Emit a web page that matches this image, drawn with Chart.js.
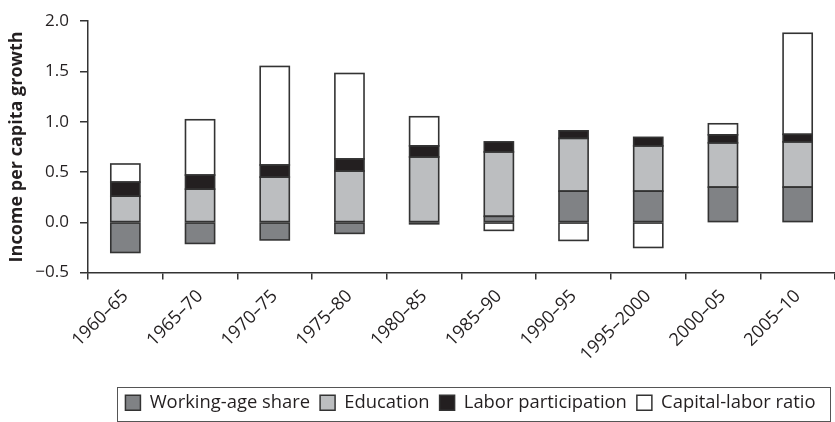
<!DOCTYPE html>
<html>
<head>
<meta charset="utf-8">
<script src="https://cdn.jsdelivr.net/npm/chart.js@4"></script>
<style>
  html, body { margin: 0; padding: 0; background: #fff; }
  #wrap { width: 835px; height: 422px; }
</style>
</head>
<body>
<div id="wrap"><canvas id="myChart" width="835" height="422"></canvas></div>
<script>
const periods = ['1960–65', '1965–70', '1970–75', '1975–80', '1980–85',
                 '1985–90', '1990–95', '1995–2000', '2000–05', '2005–10'];
const workingAge = [-0.30, -0.21, -0.175, -0.11, -0.015, 0.06, 0.31, 0.31, 0.35, 0.35];
const education = [0.26, 0.33, 0.45, 0.51, 0.65, 0.64, 0.525, 0.45, 0.44, 0.45];
const laborPart = [0.14, 0.14, 0.12, 0.12, 0.11, 0.10, 0.075, 0.085, 0.08, 0.075];
const capitalLabor = [0.18, 0.55, 0.98, 0.85, 0.29, -0.08, -0.18, -0.25, 0.11, 1.005];
const yTicks = [-0.5, 0, 0.5, 1.0, 1.5, 2.0];

const ink = '#231f20';
const edge = '#333333';

window.onload = function () {
    const ctx = document.getElementById('myChart').getContext('2d');

    function series(label, values, fill) {
        return {
            label: label,
            data: values,
            backgroundColor: fill,
            borderWidth: 0,
            inflateAmount: 0,
            barPercentage: 0.39,
            categoryPercentage: 1
        };
    }

    // outline every bar segment so stacked pieces share a single edge
    const barOutlines = {
        id: 'barOutlines',
        afterDatasetsDraw(chart) {
            const c = chart.ctx;
            c.save();
            c.strokeStyle = edge;
            c.lineWidth = 1.6;
            chart.data.datasets.forEach((ds, i) => {
                chart.getDatasetMeta(i).data.forEach(bar => {
                    const p = bar.getProps(['x', 'y', 'base', 'width'], true);
                    const top = Math.min(p.y, p.base);
                    const h = Math.abs(p.base - p.y);
                    c.strokeRect(p.x - p.width / 2, top, p.width, h);
                });
            });
            c.restore();
        }
    };

    // move legend a bit right and frame it like the printed figure
    const legendFrame = {
        id: 'legendFrame',
        afterLayout(chart) {
            chart.legend.left += 9;
            chart.legend.right += 9;
        },
        afterDraw(chart) {
            const boxes = chart.legend.legendHitBoxes;
            if (!boxes || !boxes.length) return;
            const first = boxes[0];
            const last = boxes[boxes.length - 1];
            const c = chart.ctx;
            c.save();
            c.strokeStyle = '#555';
            c.lineWidth = 1;
            const x0 = Math.round(first.left - 8) + 0.5;
            const x1 = Math.round(last.left + last.width + 14) + 0.5;
            const y0 = 387.5;
            const y1 = 421.5;
            c.strokeRect(x0, y0, x1 - x0, y1 - y0);
            c.restore();
        }
    };

    new Chart(ctx, {
        type: 'bar',
        data: {
            labels: periods,
            datasets: [
                series('Working-age share', workingAge, '#808285'),
                series('Education', education, '#bcbec0'),
                series('Labor participation', laborPart, ink),
                series('Capital-labor ratio', capitalLabor, '#ffffff')
            ]
        },
        options: {
            responsive: false,
            animation: false,
            layout: { padding: 0 },
            plugins: {
                legend: {
                    position: 'bottom',
                    fullSize: false,
                    labels: {
                        boxWidth: 15,
                        boxHeight: 15,
                        padding: 10,
                        color: ink,
                        font: { family: 'Open Sans', size: 18.4 },
                        generateLabels(chart) {
                            const items = Chart.defaults.plugins.legend.labels.generateLabels(chart);
                            items.forEach(it => { it.lineWidth = 1.5; it.strokeStyle = edge; });
                            return items;
                        }
                    }
                },
                tooltip: { enabled: false }
            },
            scales: {
                x: {
                    stacked: true,
                    border: { color: edge, width: 1.5 },
                    grid: {
                        offset: true,
                        drawOnChartArea: false,
                        tickLength: 7,
                        color: edge,
                        lineWidth: 1.5
                    },
                    ticks: {
                        minRotation: 45,
                        maxRotation: 45,
                        color: ink,
                        padding: 6,
                        font: { family: 'Open Sans', size: 18 }
                    },
                    afterFit(scale) { scale.height = 111; }
                },
                y: {
                    stacked: true,
                    min: -0.5,
                    max: 2.0,
                    afterBuildTicks(scale) {
                        scale.ticks = yTicks.map(v => ({ value: v }));
                    },
                    border: { color: edge, width: 1.5 },
                    grid: {
                        drawOnChartArea: false,
                        tickLength: 8,
                        color: edge,
                        lineWidth: 1.5
                    },
                    ticks: {
                        color: ink,
                        padding: 11,
                        font: { family: 'Open Sans', size: 17 },
                        callback: v => (v < 0 ? '\u2212' : '') + Math.abs(v).toFixed(1)
                    },
                    title: {
                        display: true,
                        text: 'Income per capita growth',
                        color: ink,
                        padding: { top: 6, bottom: 0 },
                        font: { family: 'Open Sans', size: 18, weight: 'bold' }
                    },
                    afterFit(scale) { scale.width = 88; }
                }
            }
        },
        plugins: [barOutlines, legendFrame]
    });
};
</script>
</body>
</html>
